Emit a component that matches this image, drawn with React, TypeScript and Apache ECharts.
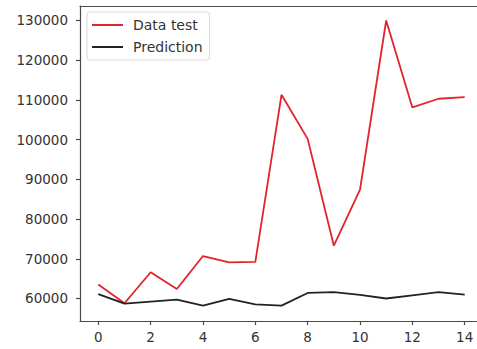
import React, { useEffect, useRef } from "react";
import * as echarts from "echarts";

const xValues = [0, 1, 2, 3, 4, 5, 6, 7, 8, 9, 10, 11, 12, 13, 14];
const dataTest = [63500, 58800, 66600, 62400, 70700, 69100, 69200, 111300, 100200, 73300, 87400, 130000, 108100, 110300, 110700];
const prediction = [61100, 58700, 59200, 59700, 58200, 59900, 58500, 58200, 61400, 61600, 60900, 60000, 60800, 61600, 61000];
const xTicks = [0, 2, 4, 6, 8, 10, 12, 14];
const yTicks = [60000, 70000, 80000, 90000, 100000, 110000, 120000, 130000];

export default function App() {
  const ref = useRef<HTMLDivElement>(null);
  useEffect(() => {
    if (!ref.current) return;
    document.body.style.overflow = "hidden";
    const chart = echarts.init(ref.current, null, { renderer: "svg" });
    const font = "DejaVu Sans";
    const axisCol = "#4a4a4a";
    const spine = { show: true, onZero: false, lineStyle: { color: axisCol, width: 1.2 } };
    chart.setOption({
      animation: false,
      backgroundColor: "#ffffff",
      grid: {
        left: 80,
        top: 6,
        right: 7,
        bottom: 28,
      },
      legend: {
        orient: "vertical",
        left: 87,
        top: 12,
        padding: [5, 7, 5, 5],
        itemGap: 6,
        itemWidth: 31,
        itemHeight: 2,
        icon: "rect",
        backgroundColor: "#ffffff",
        borderColor: "#d8d8d8",
        borderWidth: 1,
        borderRadius: 3,
        textStyle: {
          fontFamily: font,
          fontSize: 14,
          color: "#333",
          lineHeight: 16,
          padding: [0, 0, 0, 5],
        },
        data: ["Data test", "Prediction"],
      },
      xAxis: [
        {
          type: "value",
          position: "bottom",
          min: -0.7,
          max: 14.7,
          splitLine: { show: false },
          axisLine: spine,
          axisTick: { show: true, length: 4, lineStyle: { color: axisCol, width: 1.2 }, customValues: xTicks },
          axisLabel: {
            customValues: xTicks,
            fontFamily: font,
            fontSize: 13.5,
            color: "#333",
            margin: 9,
            formatter: (v: number) => String(v),
          },
        },
        {
          type: "value",
          position: "top",
          min: -0.7,
          max: 14.7,
          splitLine: { show: false },
          axisLine: spine,
          axisTick: { show: false },
          axisLabel: { show: false },
        },
      ],
      yAxis: {
        type: "value",
        min: 54334,
        max: 133651,
        splitLine: { show: false },
        axisLine: spine,
        axisTick: { show: true, length: 4, lineStyle: { color: axisCol, width: 1.2 }, customValues: yTicks },
        axisLabel: {
          customValues: yTicks,
          fontFamily: font,
          fontSize: 13.5,
          color: "#333",
          margin: 12,
          formatter: (v: number) => String(v),
        },
      },
      series: [
        {
          name: "Data test",
          type: "line",
          data: xValues.map((x, i) => [x, dataTest[i]]),
          symbol: "none",
          lineStyle: { color: "#e2232c", width: 1.8 },
          itemStyle: { color: "#e2232c" },
        },
        {
          name: "Prediction",
          type: "line",
          data: xValues.map((x, i) => [x, prediction[i]]),
          symbol: "none",
          lineStyle: { color: "#222222", width: 1.8 },
          itemStyle: { color: "#222222" },
        },
      ],
    });
    return () => chart.dispose();
  }, []);
  return <div ref={ref} style={{ width: 490, height: 349, position: "fixed", left: 0, top: 0 }} />;
}
